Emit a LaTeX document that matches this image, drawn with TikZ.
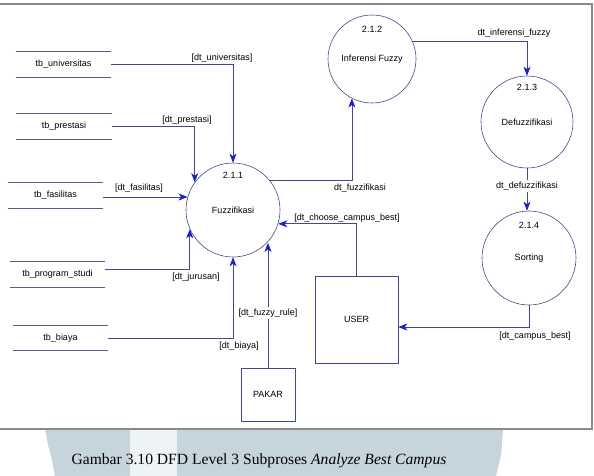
\documentclass[tikz,border=0pt]{standalone}
\usepackage{fontspec}
\setmainfont{Liberation Serif}
\newfontfamily\diafont{Liberation Sans}
\usetikzlibrary{arrows.meta,calc}
\definecolor{lineblue}{HTML}{46468C}
\definecolor{tipblue}{HTML}{1E1ECC}
\definecolor{storeline}{HTML}{5A5A8C}
\definecolor{framegray}{HTML}{8A8A8A}
\definecolor{wmark}{HTML}{C6D5DC}
\definecolor{wmarklight}{HTML}{EEF3F5}
\tikzset{
  proc/.style={circle, draw=lineblue, line width=0.6pt, inner sep=0pt, font=\diafont\fontsize{9}{10}\selectfont},
  store/.style={inner sep=0pt, minimum width=95pt, minimum height=25pt, font=\diafont\fontsize{9}{10}\selectfont},
  entity/.style={rectangle, draw=lineblue, line width=0.6pt, inner sep=0pt, font=\diafont\fontsize{9}{10}\selectfont},
  num/.style={font=\diafont\fontsize{9}{10}\selectfont, inner sep=1pt},
  flow/.style={draw=lineblue, line width=0.75pt, -{Stealth[length=9pt,width=7pt,inset=2.5pt,color=tipblue]}},
  flowlabel/.style={font=\diafont\fontsize{9}{10}\selectfont, inner sep=1pt},
  whitelabel/.style={flowlabel, fill=white, inner sep=1.5pt},
  stline/.style={draw=storeline, line width=0.8pt}
}
\begin{document}
\begin{tikzpicture}[x=1pt,y=-1pt]
\useasboundingbox (0,0) rectangle (594,476);
% watermark
\fill[wmark] (45,429) -- (130,429) -- (130,476) -- (55,476) -- (52,460) -- (48,445) -- cycle;
\fill[wmarklight] (130,429) rectangle (177,476);
\fill[wmark] (177,429) -- (503,429) -- (501,455) -- (496,476) -- (177,476) -- cycle;
% frame
\draw[framegray, line width=1.5pt] (-2,4) rectangle (592,429);

% data stores
\node[store] (tbu) at (63.5,64.5) {tb\_universitas};
\node[store] (tbp) at (64,126.5) {tb\_prestasi};
\node[store] (tbf) at (55.5,195.5) {tb\_fasilitas};
\node[store] (tbs) at (57.5,274.5) {tb\_program\_studi};
\node[store] (tbb) at (60.5,338) {tb\_biaya};
\foreach \s in {tbu,tbp,tbf,tbs,tbb}{
  \draw[stline] (\s.north west) -- (\s.north east);
  \draw[stline] (\s.south west) -- (\s.south east);
}

% processes
\node[proc, minimum size=94pt] (p1) at (233,210) {Fuzzifikasi};
\node[num] at ($(p1.center)+(0,-35)$) {2.1.1};
\node[proc, minimum size=88pt] (p2) at (372,59) {Inferensi Fuzzy};
\node[num] at ($(p2.center)+(0,-30)$) {2.1.2};
\node[proc, minimum size=92pt] (p3) at (527,122) {Defuzzifikasi};
\node[num] at ($(p3.center)+(0,-35)$) {2.1.3};
\node[proc, minimum size=94pt] (p4) at (529,258) {Sorting};
\node[num] at ($(p4.center)+(0,-33)$) {2.1.4};

% entities
\node[entity, minimum width=83pt, minimum height=87pt] (user) at (356.5,319.5) {USER};
\node[entity, minimum width=54pt, minimum height=53pt] (pakar) at (268,394.5) {PAKAR};

% flows
\draw[flow] (tbu.east) -| (p1.north);
\node[flowlabel] at (222,58) {[dt\_universitas]};

\draw[flow] (tbp.east) -| (p1.144);
\node[flowlabel] at (187,120) {[dt\_prestasi]};

\draw[flow] ([yshift=-1.5pt]tbf.east) -- ([yshift=-1.5pt]tbf.east -| p1.164);
\node[flowlabel] at (139,188) {[dt\_fasilitas]};

\coordinate (tbsout) at ([yshift=5.5pt]tbs.east);
\draw[flow] (tbsout) -| (p1.204);
\node[flowlabel] at (196,277) {[dt\_jurusan]};

\draw[flow] (tbb.east) -| (p1.south);
\node[flowlabel] at (239,346.5) {[dt\_biaya]};

\draw[flow] (pakar.north) -- (pakar.north |- p1.-44);
\node[whitelabel] at (268,313) {[dt\_fuzzy\_rule]};

\draw[flow] (user.north) |- (p1.-17);
\node[flowlabel] at (347,218) {[dt\_choose\_campus\_best]};

\draw[flow] (p1.39) -| (p2.243);
\node[flowlabel] at (360,188) {dt\_fuzzifikasi};

\draw[flow] (p2.24) -| (p3.north);
\node[flowlabel] at (514,33) {dt\_inferensi\_fuzzy};

\draw[flow] (p3.south) -- (p3.south |- p4.north);
\node[whitelabel] at (527,186) {dt\_defuzzifikasi};

\draw[flow] (p4.south) |- ([yshift=-7.5pt]user.east);
\node[flowlabel] at (535,336) {[dt\_campus\_best]};

% caption
\node[font=\fontsize{15.6}{18}\selectfont, inner sep=0pt] (cap) at (259,461) {Gambar 3.10 DFD Level 3 Subproses \textit{Analyze Best Campus}};
\end{tikzpicture}
\end{document}
